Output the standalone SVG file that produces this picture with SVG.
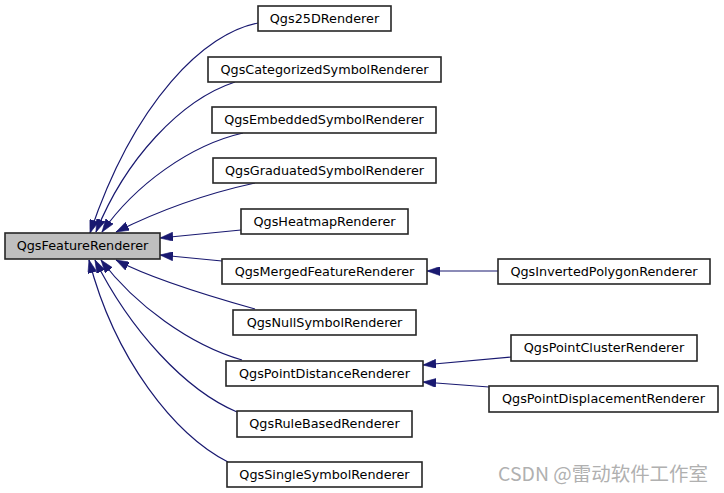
<svg xmlns="http://www.w3.org/2000/svg" width="724" height="493" viewBox="0 0 724 493">
<style>
  .n rect { fill: #ffffff; stroke: #262626; stroke-width: 1.6; }
  .n.main rect { fill: #bfbfbf; stroke: #262626; }
  .n text { font-family: "DejaVu Sans", sans-serif; font-size: 12.8px; fill: #000000; text-anchor: middle; }
  .e path { fill: none; stroke: #191970; stroke-width: 1.2; marker-end: url(#arr); }
  .wm { font-family: "Noto Sans CJK SC", "DejaVu Sans", sans-serif; font-size: 19px; fill: #b0b0b0; }
</style>
<defs>
  <marker id="arr" viewBox="0 0 13 9" refX="13" refY="4.5" markerWidth="13" markerHeight="9" markerUnits="userSpaceOnUse" orient="auto">
    <path d="M0,0 L13,4.5 L0,9 z" fill="#191970" stroke="#191970" stroke-width="0.6"/>
  </marker>
</defs>
<g id="connectors" class="e">
  <path d="M258,23 C205,33 135,100 90,233"/>
  <path d="M235,82 C180,100 125,160 96,232"/>
  <path d="M243,133 C190,145 135,185 102,232"/>
  <path d="M255,183 C200,195 150,215 116,232"/>
  <path d="M241,230 L160,238"/>
  <path d="M222,261 L160,255"/>
  <path d="M255,309 C205,295 150,278 116,260"/>
  <path d="M242,360 C190,345 135,305 101,260"/>
  <path d="M237,412 C185,390 130,330 95,260"/>
  <path d="M228,462 C175,435 115,360 89,260"/>
  <path d="M498,271 L427,271"/>
  <path d="M511,357 L423,365"/>
  <path d="M489,387 L423,382"/>
</g>
<g id="QgsFeatureRenderer" class="n main"><rect x="5" y="233" width="155" height="26"/><text x="82.5" y="250">QgsFeatureRenderer</text></g>
<g id="Qgs25DRenderer" class="n"><rect x="258" y="6" width="133" height="25"/><text x="324.5" y="22.5">Qgs25DRenderer</text></g>
<g id="QgsCategorizedSymbolRenderer" class="n"><rect x="208" y="57" width="233" height="25"/><text x="324.5" y="73.5">QgsCategorizedSymbolRenderer</text></g>
<g id="QgsEmbeddedSymbolRenderer" class="n"><rect x="212" y="107" width="224" height="26"/><text x="324" y="124">QgsEmbeddedSymbolRenderer</text></g>
<g id="QgsGraduatedSymbolRenderer" class="n"><rect x="213" y="158" width="223" height="25"/><text x="324.5" y="174.5">QgsGraduatedSymbolRenderer</text></g>
<g id="QgsHeatmapRenderer" class="n"><rect x="241" y="209" width="167" height="25"/><text x="324.5" y="225.5">QgsHeatmapRenderer</text></g>
<g id="QgsMergedFeatureRenderer" class="n"><rect x="222" y="259" width="205" height="25"/><text x="324.5" y="275.5">QgsMergedFeatureRenderer</text></g>
<g id="QgsNullSymbolRenderer" class="n"><rect x="233" y="310" width="183" height="25"/><text x="324.5" y="326.5">QgsNullSymbolRenderer</text></g>
<g id="QgsPointDistanceRenderer" class="n"><rect x="226" y="361" width="197" height="25"/><text x="324.5" y="377.5">QgsPointDistanceRenderer</text></g>
<g id="QgsRuleBasedRenderer" class="n"><rect x="237" y="411" width="175" height="26"/><text x="324.5" y="428">QgsRuleBasedRenderer</text></g>
<g id="QgsSingleSymbolRenderer" class="n"><rect x="227" y="462" width="195" height="25"/><text x="324.5" y="478.5">QgsSingleSymbolRenderer</text></g>
<g id="QgsInvertedPolygonRenderer" class="n"><rect x="498" y="259" width="212" height="25"/><text x="604" y="275.5">QgsInvertedPolygonRenderer</text></g>
<g id="QgsPointClusterRenderer" class="n"><rect x="511" y="335" width="186" height="26"/><text x="604" y="352">QgsPointClusterRenderer</text></g>
<g id="QgsPointDisplacementRenderer" class="n"><rect x="489" y="386" width="229" height="26"/><text x="603.5" y="403">QgsPointDisplacementRenderer</text></g>
<text class="wm" x="498" y="481" textLength="210" lengthAdjust="spacingAndGlyphs">CSDN @雷动软件工作室</text>
</svg>
